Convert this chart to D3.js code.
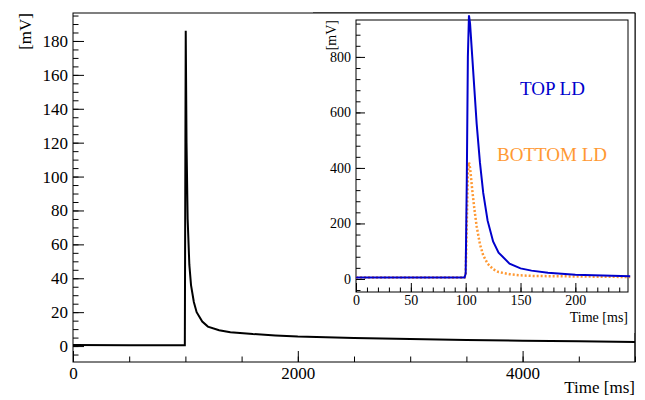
<!DOCTYPE html>
<html><head><meta charset="utf-8">
<script src="https://d3js.org/d3.v7.min.js"></script>
<style>
body { margin: 0; background: #fff; }
svg text { font-family: "Liberation Serif", "Times New Roman", Times, "DejaVu Serif", serif !important; fill: #000; }
</style></head>
<body>
<svg id="c" width="645" height="400"></svg>
<script>
// main trace [ms, mV]
var mainT = [0, 500, 995, 1000, 1003, 1010, 1020, 1035, 1050, 1075, 1100, 1150, 1200, 1300, 1400, 1600, 1800, 2000, 2500, 3000, 3500, 4000, 4500, 5000];
var mainV = [0.6, 0.5, 0.5, 120, 186, 120, 75, 48, 36, 26, 20, 14.5, 11.5, 9.3, 8.2, 7.1, 6.3, 5.6, 4.8, 4.2, 3.6, 3.1, 2.8, 2.4];
// inset traces
var insT = [0, 50, 99, 100, 101, 102, 103, 104, 106, 108, 110, 113, 116, 120, 125, 130, 140, 150, 160, 175, 200, 225, 250];
var topV = [5, 5, 5, 20, 350, 800, 950, 920, 800, 680, 560, 420, 310, 210, 135, 95, 55, 38, 30, 22, 15, 12, 10];
var botV = [5, 5, 5, 15, 200, 380, 420, 400, 320, 250, 190, 125, 85, 55, 35, 25, 17, 13, 11, 10, 9, 8, 7];
var xTicks = [0, 2000, 4000], yTicks = [0, 20, 40, 60, 80, 100, 120, 140, 160, 180];
var ixTicks = [0, 50, 100, 150, 200], iyTicks = [0, 200, 400, 600, 800];

var svg = d3.select("#c");

function frame(g, x, y, xt, yt, xminor, yminor, fs, tl, pad) {
  var r = x.range(), h = y.range();
  g.append("rect").attr("x", r[0]).attr("y", h[1]).attr("width", r[1] - r[0]).attr("height", h[0] - h[1])
    .attr("fill", "none").attr("stroke", "#000");
  var ax = g.append("g").attr("transform", "translate(0," + h[0] + ")")
    .call(d3.axisBottom(x).tickValues(xminor).tickSize(-tl / 2).tickFormat(""));
  ax.select(".domain").remove();
  var ax2 = g.append("g").attr("transform", "translate(0," + h[0] + ")")
    .call(d3.axisBottom(x).tickValues(xt).tickSize(-tl).tickPadding(pad).tickFormat(d3.format("d")));
  ax2.select(".domain").remove();
  ax2.attr("font-family", null).selectAll("text").style("font-size", fs + "px");
  var ay = g.append("g").attr("transform", "translate(" + r[0] + ",0)")
    .call(d3.axisLeft(y).tickValues(yminor).tickSize(-tl / 2).tickFormat(""));
  ay.select(".domain").remove();
  var ay2 = g.append("g").attr("transform", "translate(" + r[0] + ",0)")
    .call(d3.axisLeft(y).tickValues(yt).tickSize(-tl).tickPadding(5));
  ay2.select(".domain").remove();
  ay2.attr("font-family", null).selectAll("text").style("font-size", fs + "px");
  g.selectAll(".tick line").attr("stroke", "#000");
}

// main plot
var x = d3.scaleLinear().domain([0, 5000]).range([73, 635]);
var y = d3.scaleLinear().domain([-9.4, 196.5]).range([362, 13]);
var gm = svg.append("g");
frame(gm, x, y, xTicks, yTicks, d3.range(0, 5001, 500), d3.range(-5, 196, 5), 17, 11, 5);
gm.append("path").attr("d", d3.line().x((d, i) => x(mainT[i])).y(d => y(d))(mainV))
  .attr("fill", "none").attr("stroke", "#000").attr("stroke-width", 2);
gm.append("text").attr("x", 635).attr("y", 393).attr("text-anchor", "end").attr("font-size", 17).text("Time [ms]");
gm.append("text").attr("transform", "translate(31,13) rotate(-90)").attr("text-anchor", "end").attr("font-size", 17).text("[mV]");

// inset
var gi = svg.append("g");
gi.append("rect").attr("x", 313).attr("y", 13).attr("width", 322).attr("height", 320).attr("fill", "#fff");
gi.append("line").attr("x1", 313).attr("x2", 635).attr("y1", 13).attr("y2", 13).attr("stroke", "#000");
gi.append("line").attr("x1", 635).attr("x2", 635).attr("y1", 13).attr("y2", 362).attr("stroke", "#000");
var ix = d3.scaleLinear().domain([0, 248]).range([356, 628]);
var iy = d3.scaleLinear().domain([-47, 933]).range([292, 20]);
frame(gi, ix, iy, ixTicks, iyTicks, d3.range(0, 248, 10), d3.range(-40, 933, 40), 14, 9, 3);
gi.append("path").attr("d", d3.line().x((d, i) => ix(insT[i])).y(d => iy(d))(botV))
  .attr("fill", "none").attr("stroke", "#ff9933").attr("stroke-width", 2.5).attr("stroke-dasharray", "2,2");
gi.append("path").attr("d", d3.line().x((d, i) => ix(insT[i])).y(d => iy(d))(topV))
  .attr("fill", "none").attr("stroke", "#0000cc").attr("stroke-width", 2);
gi.append("text").attr("x", 628).attr("y", 322).attr("text-anchor", "end").attr("font-size", 14).text("Time [ms]");
gi.append("text").attr("transform", "translate(336,20) rotate(-90)").attr("text-anchor", "end").attr("font-size", 14).text("[mV]");
gi.append("text").attr("x", 520).attr("y", 95).attr("font-size", 19).style("fill", "#0000cc").text("TOP LD");
gi.append("text").attr("x", 497).attr("y", 161).attr("font-size", 19).style("fill", "#ff9933").text("BOTTOM LD");
</script>
</body></html>
